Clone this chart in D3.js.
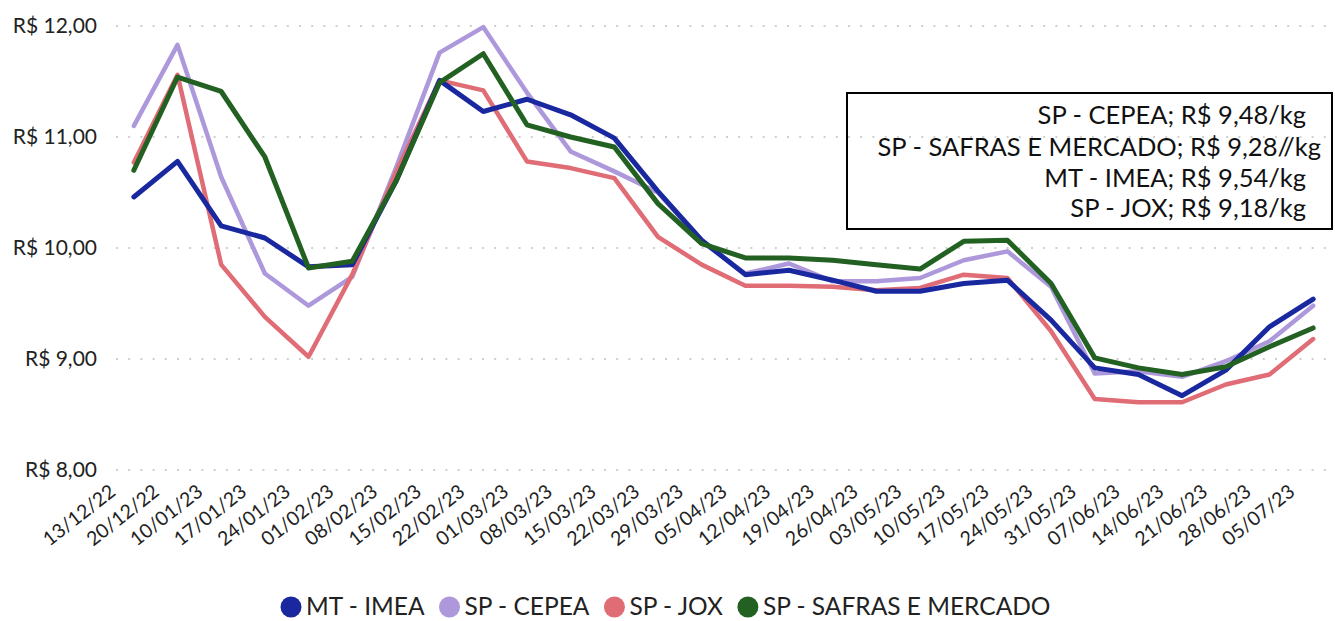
<!DOCTYPE html>
<html>
<head>
<meta charset="utf-8">
<script src="https://cdn.jsdelivr.net/npm/d3@7"></script>
<style>
  html, body { margin: 0; padding: 0; background: #fff; }
  svg { display: block; font-family: Lato, "Open Sans", sans-serif; }
</style>
</head>
<body>
<svg id="chart" width="1335" height="621"></svg>
<script>
const categories = ["13/12/22","20/12/22","10/01/23","17/01/23","24/01/23","01/02/23","08/02/23","15/02/23","22/02/23","01/03/23","08/03/23","15/03/23","22/03/23","29/03/23","05/04/23","12/04/23","19/04/23","26/04/23","03/05/23","10/05/23","17/05/23","24/05/23","31/05/23","07/06/23","14/06/23","21/06/23","28/06/23","05/07/23"];

const mtImea   = [10.46,10.78,10.20,10.09,9.83,9.85,10.60,11.51,11.23,11.34,11.20,10.99,10.51,10.07,9.76,9.80,9.71,9.61,9.61,9.68,9.71,9.35,8.92,8.86,8.67,8.90,9.29,9.54];
const spCepea  = [11.10,11.83,10.64,9.77,9.48,9.74,10.72,11.76,11.99,11.40,10.87,10.69,10.50,10.06,9.77,9.86,9.70,9.70,9.73,9.89,9.97,9.65,8.87,8.89,8.84,8.98,9.16,9.48];
const spJox    = [10.77,11.56,9.85,9.38,9.02,9.76,10.68,11.51,11.42,10.78,10.72,10.63,10.10,9.85,9.66,9.66,9.65,9.62,9.64,9.76,9.73,9.25,8.64,8.61,8.61,8.77,8.86,9.18];
const spSafras = [10.70,11.54,11.41,10.82,9.82,9.88,10.60,11.49,11.75,11.11,11.00,10.91,10.40,10.04,9.91,9.91,9.89,9.85,9.81,10.06,10.07,9.68,9.01,8.92,8.86,8.93,9.11,9.28];

const seriesNames = ["MT - IMEA","SP - CEPEA","SP - JOX","SP - SAFRAS E MERCADO"];
const seriesColors = ["#1a28a0","#ad98dc","#e06c75","#226122"];
const yTicks = [8,9,10,11,12];
const noteLines = ["SP - CEPEA; R$ 9,48/kg","SP - SAFRAS E MERCADO; R$ 9,28//kg","MT - IMEA; R$ 9,54/kg","SP - JOX; R$ 9,18/kg"];

const svg = d3.select("#chart");
const x = d3.scalePoint().domain(categories).range([112, 1335]).padding(0.5);
const y = d3.scaleLinear().domain([8, 12]).range([470, 26]);

const fmt = v => "R$ " + d3.format(".2f")(v).replace(".", ",");

// gridlines
svg.append("g").selectAll("line").data(yTicks).join("line")
  .attr("x1", 116).attr("x2", 1333)
  .attr("y1", d => y(d)).attr("y2", d => y(d))
  .attr("stroke", "#cfcfcf").attr("stroke-width", 2.2)
  .attr("stroke-dasharray", "2,10.2");

// y axis labels
const yAxis = d3.axisLeft(y).tickValues(yTicks).tickFormat(fmt).tickSize(0).tickPadding(0);
const yg = svg.append("g").attr("transform", "translate(97,0)").call(yAxis);
yg.select(".domain").remove();
yg.selectAll("text").attr("font-size", 21).attr("fill", "#222").attr("font-family", "Lato, sans-serif");

// x axis labels
const xAxis = d3.axisBottom(x).tickSize(0).tickPadding(0);
const xg = svg.append("g").call(xAxis);
xg.select(".domain").remove();
xg.selectAll(".tick").attr("transform", d => `translate(${x(d) - 17},494)`);
xg.selectAll("text")
  .attr("font-size", 19.5).attr("fill", "#222").attr("font-family", "Lato, sans-serif")
  .attr("text-anchor", "end").attr("y", 0).attr("dy", 0)
  .attr("transform", "rotate(-38)");

// lines
const allSeries = [mtImea, spCepea, spJox, spSafras];
const drawOrder = [1, 2, 0, 3];
const widths = [5, 4.5, 4.5, 5];
const line = d3.line().x((d, i) => x(categories[i])).y(d => y(d));
drawOrder.forEach(k => {
  svg.append("path").datum(allSeries[k])
    .attr("d", line).attr("fill", "none")
    .attr("stroke", seriesColors[k]).attr("stroke-width", widths[k])
    .attr("stroke-linejoin", "round").attr("stroke-linecap", "round");
});

// annotation box
svg.append("rect").attr("x", 847).attr("y", 93).attr("width", 485).attr("height", 136)
  .attr("fill", "none").attr("stroke", "#000").attr("stroke-width", 2);
const noteRight = [1306, 1321, 1306, 1306];
const noteBase = [124, 156, 187, 217];
svg.append("g").selectAll("text").data(noteLines).join("text")
  .attr("x", (d, i) => noteRight[i]).attr("y", (d, i) => noteBase[i])
  .attr("text-anchor", "end").attr("font-size", 25.5).attr("fill", "#111")
  .text(d => d);

// legend
const lg = svg.append("g");
const items = lg.selectAll("g").data(seriesNames).join("g");
items.append("circle").attr("r", 10.5).attr("cy", 1).attr("fill", (d, i) => seriesColors[i]);
items.append("text").attr("x", 15).attr("dy", "0.35em").attr("font-size", 24.5).attr("fill", "#222").text(d => d);
let cx = 0;
const pos = [];
let lastW = 0;
items.each(function(d, i) {
  const w = d3.select(this).select("text").node().getComputedTextLength();
  pos.push(cx);
  lastW = w;
  cx += 15 + w + 25;
});
const total = 10.5 + pos[pos.length - 1] + 15 + lastW;
const startX = 665.5 - total / 2 + 10.5;
items.attr("transform", (d, i) => `translate(${startX + pos[i]},606)`);
</script>
</body>
</html>
